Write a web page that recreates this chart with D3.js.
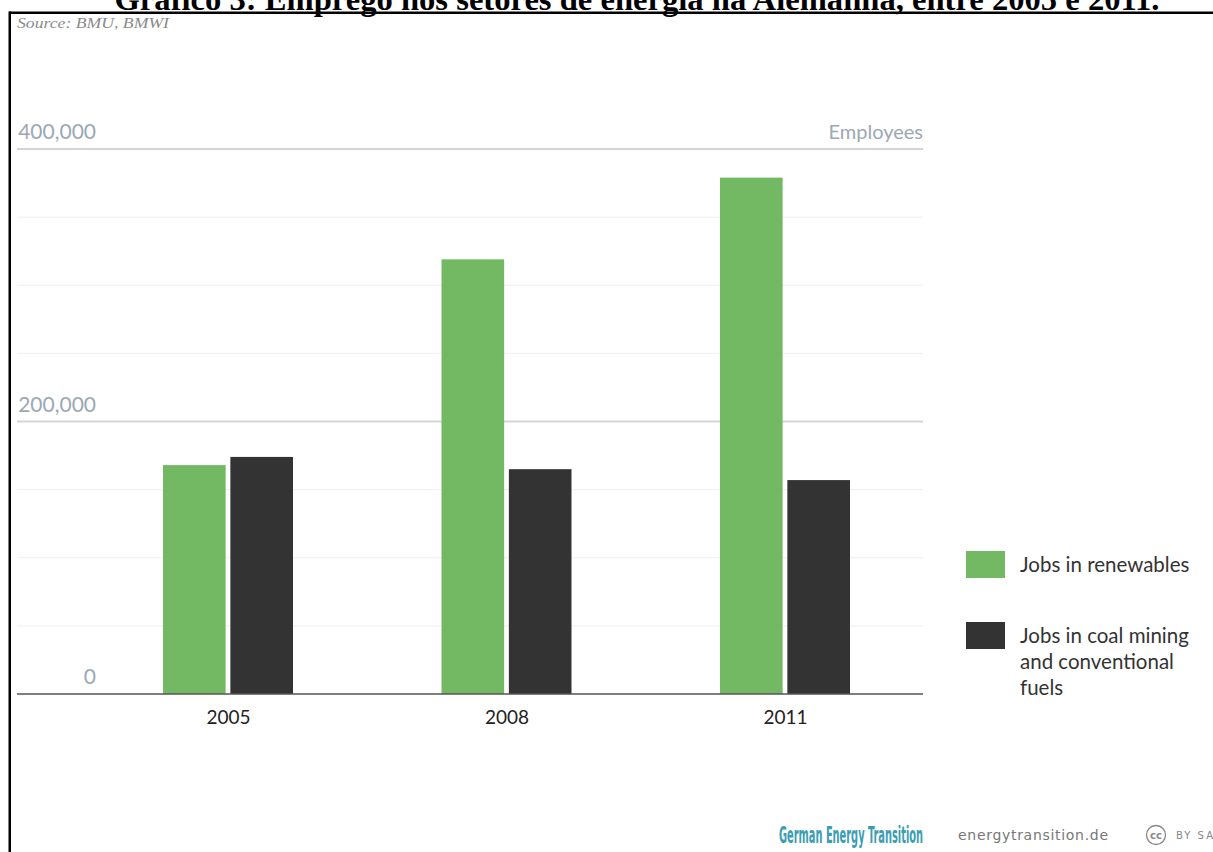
<!DOCTYPE html>
<html>
<head>
<meta charset="utf-8">
<script src="https://cdn.jsdelivr.net/npm/d3@7"></script>
<style>
  html, body { margin: 0; padding: 0; background: #fff; }
  svg { display: block; }
</style>
</head>
<body>
<svg id="chart" width="1213" height="852"></svg>
<script>
// Employment in German energy sectors
const years = ["2005", "2008", "2011"];
const seriesNames = ["Jobs in renewables", "Jobs in coal mining and conventional fuels"];
const renewables = [168000, 319000, 379000];
const conventional = [174000, 165000, 157000];
const gridTicks = [0, 50000, 100000, 150000, 200000, 250000, 300000, 350000, 400000];
const labelTicks = [0, 200000, 400000];
const legendLines = [["Jobs in renewables"], ["Jobs in coal mining", "and conventional", "fuels"]];
const colors = ["#73b964", "#333333"];

const svg = d3.select("#chart");
const sans = "Lato, 'Open Sans', sans-serif";

// Title and frame
svg.append("text")
  .attr("x", 637).attr("y", 10)
  .attr("text-anchor", "middle")
  .attr("font-family", "'Liberation Serif', 'Times New Roman', serif")
  .attr("font-weight", "bold")
  .attr("font-size", 32)
  .attr("textLength", 1045)
  .attr("lengthAdjust", "spacingAndGlyphs")
  .attr("fill", "#000")
  .text("Gráfico 3: Emprego nos setores de energia na Alemanha, entre 2005 e 2011.");

svg.append("rect").attr("x", 9).attr("y", 11.5).attr("width", 1204).attr("height", 2.5).attr("fill", "#000");
svg.append("rect").attr("x", 8.5).attr("y", 11.5).attr("width", 2.5).attr("height", 841).attr("fill", "#000");

svg.append("text")
  .attr("x", 17).attr("y", 28)
  .attr("font-family", "'Liberation Serif', serif")
  .attr("font-style", "italic")
  .attr("font-size", 15)
  .attr("textLength", 152)
  .attr("lengthAdjust", "spacingAndGlyphs")
  .attr("fill", "#8a8a8a")
  .text("Source: BMU, BMWI");

// Scales
const y = d3.scaleLinear().domain([0, 400000]).range([694, 149]);
const x0 = d3.scalePoint().domain(years).range([228, 785]);
const x1 = d3.scaleBand().domain(seriesNames).range([-65, 65]).paddingInner(0.07);
const gridLeft = 17, gridRight = 923;

// Gridlines
const major = new Set(labelTicks);
svg.append("g").selectAll("line")
  .data(gridTicks.filter(t => t !== 0))
  .join("line")
  .attr("x1", gridLeft).attr("x2", gridRight)
  .attr("y1", d => y(d)).attr("y2", d => y(d))
  .attr("stroke", d => major.has(d) ? "#d3d6d9" : "#eeeff0")
  .attr("stroke-width", d => major.has(d) ? 2 : 1);

// Y labels
svg.append("g").selectAll("text")
  .data(labelTicks)
  .join("text")
  .attr("x", 96).attr("y", d => y(d) - 10)
  .attr("text-anchor", "end")
  .attr("font-family", sans)
  .attr("font-size", 21)
  .attr("fill", "#9ba8b3")
  .text(d => d3.format(",")(d));

svg.append("text")
  .attr("x", gridRight).attr("y", y(400000) - 10)
  .attr("text-anchor", "end")
  .attr("font-family", sans)
  .attr("font-size", 20)
  .attr("fill", "#9ba8b3")
  .text("Employees");

// Bars
const rows = years.map((yr, i) => ({ year: yr, values: [renewables[i], conventional[i]] }));
const groups = svg.append("g").selectAll("g")
  .data(rows)
  .join("g")
  .attr("transform", d => `translate(${x0(d.year)},0)`);
groups.selectAll("rect")
  .data(d => d.values.map((v, j) => ({ key: seriesNames[j], v, j })))
  .join("rect")
  .attr("x", d => x1(d.key))
  .attr("width", x1.bandwidth())
  .attr("y", d => y(d.v))
  .attr("height", d => y(0) - y(d.v))
  .attr("fill", d => colors[d.j]);

// Baseline
svg.append("line")
  .attr("x1", gridLeft).attr("x2", gridRight)
  .attr("y1", y(0)).attr("y2", y(0))
  .attr("stroke", "#555").attr("stroke-width", 1.5);

// X axis labels
const xAxis = svg.append("g")
  .attr("transform", `translate(0,${y(0)})`)
  .call(d3.axisBottom(x0).tickSize(0).tickPadding(0));
xAxis.select(".domain").remove();
xAxis.selectAll("text")
  .attr("dy", 0).attr("y", 30)
  .attr("font-family", sans)
  .attr("font-size", 19)
  .attr("fill", "#222");

// Legend
const legend = svg.append("g");
const legendY = [551, 622];
legendLines.forEach((lines, i) => {
  legend.append("rect")
    .attr("x", 966).attr("y", legendY[i])
    .attr("width", 39).attr("height", 27)
    .attr("fill", colors[i]);
  const t = legend.append("text")
    .attr("font-family", sans)
    .attr("font-size", 20.5)
    .attr("fill", "#333");
  lines.forEach((ln, k) => {
    t.append("tspan").attr("x", 1020).attr("y", legendY[i] + 21 + k * 26).text(ln);
  });
});

// Footer
svg.append("text")
  .attr("x", 779).attr("y", 843)
  .attr("font-family", "'DejaVu Sans Condensed', 'DejaVu Sans', sans-serif")
  .attr("font-weight", "bold")
  .attr("font-size", 23)
  .attr("textLength", 144)
  .attr("lengthAdjust", "spacingAndGlyphs")
  .attr("fill", "#3a9db4")
  .text("German Energy Transition");
svg.append("text")
  .attr("x", 958).attr("y", 840)
  .attr("font-family", "'DejaVu Sans', sans-serif")
  .attr("font-size", 14)
  .attr("textLength", 150)
  .attr("lengthAdjust", "spacing")
  .attr("fill", "#777")
  .text("energytransition.de");
svg.append("circle")
  .attr("cx", 1156).attr("cy", 835).attr("r", 9.5)
  .attr("fill", "none").attr("stroke", "#888").attr("stroke-width", 1.3);
svg.append("text")
  .attr("x", 1156).attr("y", 839).attr("text-anchor", "middle")
  .attr("font-family", "'DejaVu Sans', sans-serif")
  .attr("font-size", 10).attr("font-weight", "bold")
  .attr("fill", "#888").text("cc");
svg.append("text")
  .attr("x", 1176).attr("y", 839)
  .attr("font-family", "'DejaVu Sans', sans-serif")
  .attr("font-size", 10)
  .attr("letter-spacing", 2)
  .attr("fill", "#888").text("BY SA");
</script>
</body>
</html>
